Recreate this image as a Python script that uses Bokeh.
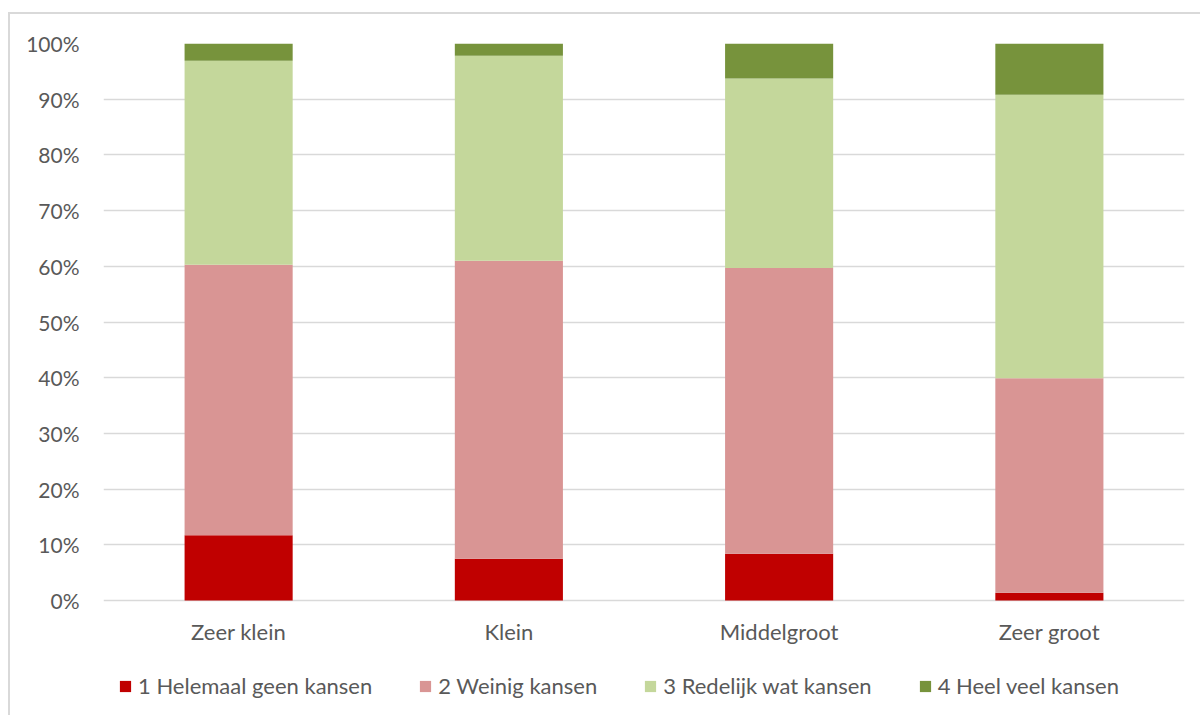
from bokeh.plotting import figure
from bokeh.models import (ColumnDataSource, FactorRange, Range1d, NumeralTickFormatter,
                          FixedTicker, Legend, LegendItem)
from bokeh.core.properties import value
from bokeh.embed import file_html
from bokeh.resources import INLINE

# Share of answers per company size (fractions of 1)
categories = ["Zeer klein", "Klein", "Middelgroot", "Zeer groot"]
geen_kansen = [0.117, 0.075, 0.084, 0.014]
weinig_kansen = [0.486, 0.535, 0.513, 0.385]
redelijk_kansen = [0.366, 0.368, 0.340, 0.509]
veel_kansen = [0.031, 0.022, 0.063, 0.092]

series_keys = ["geen", "weinig", "redelijk", "veel"]
series_labels = ["1 Helemaal geen kansen", "2 Weinig kansen",
                 "3 Redelijk wat kansen", "4 Heel veel kansen"]
colors = ["#C00000", "#D99594", "#C4D79B", "#77933C"]

source = ColumnDataSource(data=dict(
    cat=categories,
    geen=geen_kansen,
    weinig=weinig_kansen,
    redelijk=redelijk_kansen,
    veel=veel_kansen,
    base=[0] * len(categories),
))

FONT = "Lato"
TEXT = "#595959"
GRID = "#D9D9D9"

# the plot area runs down to the bottom edge so the category labels and the
# legend sit inside it; 0..1 keeps 557 px, the room below 0 holds 115 px
PX_PER_UNIT = 557
ROOM_BELOW = 115

p = figure(
    width=1190, height=701,
    x_range=FactorRange(*categories, range_padding=0),
    y_range=Range1d(-ROOM_BELOW / PX_PER_UNIT, 1),
    x_axis_location=None,
    output_backend="svg", toolbar_location=None,
    min_border_left=93, min_border_right=16,
    min_border_top=29, min_border_bottom=0,
)
# light frame around the whole chart; right and bottom edges fall past the page
p.styles = {"margin-left": "10px", "margin-top": "14px",
            "outline": "2px solid #D9D9D9"}

renderers = p.vbar_stack(series_keys, x="cat", width=0.4, source=source,
                         color=colors, line_color=None)

# value axis
p.yaxis.ticker = FixedTicker(ticks=[i / 10 for i in range(11)])
p.yaxis.formatter = NumeralTickFormatter(format="0%")
p.yaxis.axis_line_color = None
p.yaxis.major_tick_line_color = None
p.yaxis.minor_tick_line_color = None
p.yaxis.major_label_text_font = FONT
p.yaxis.major_label_text_color = TEXT
p.yaxis.major_label_text_font_size = "21px"
p.yaxis.major_label_standoff = 18

p.xgrid.grid_line_color = None
p.ygrid.grid_line_color = GRID
p.ygrid.grid_line_width = 1.5
p.outline_line_color = None

# category labels under the bars
p.text(x="cat", y="base", text="cat", source=source, y_offset=31,
       text_align="center", text_baseline="middle",
       text_font=value(FONT), text_font_size="22px", text_color=TEXT)

# legend under the category labels
items = [LegendItem(label=lab, renderers=[r]) for lab, r in zip(series_labels, renderers)]
legend = Legend(items=items, orientation="horizontal", location=(15, 16),
                label_text_font=FONT, label_text_font_size="22px",
                label_text_color=TEXT, glyph_width=14, glyph_height=14,
                label_standoff=6, spacing=46, padding=0, margin=0,
                border_line_color=None, background_fill_alpha=0)
p.add_layout(legend, "center")

open("out.html", "w").write(file_html(p, INLINE))
